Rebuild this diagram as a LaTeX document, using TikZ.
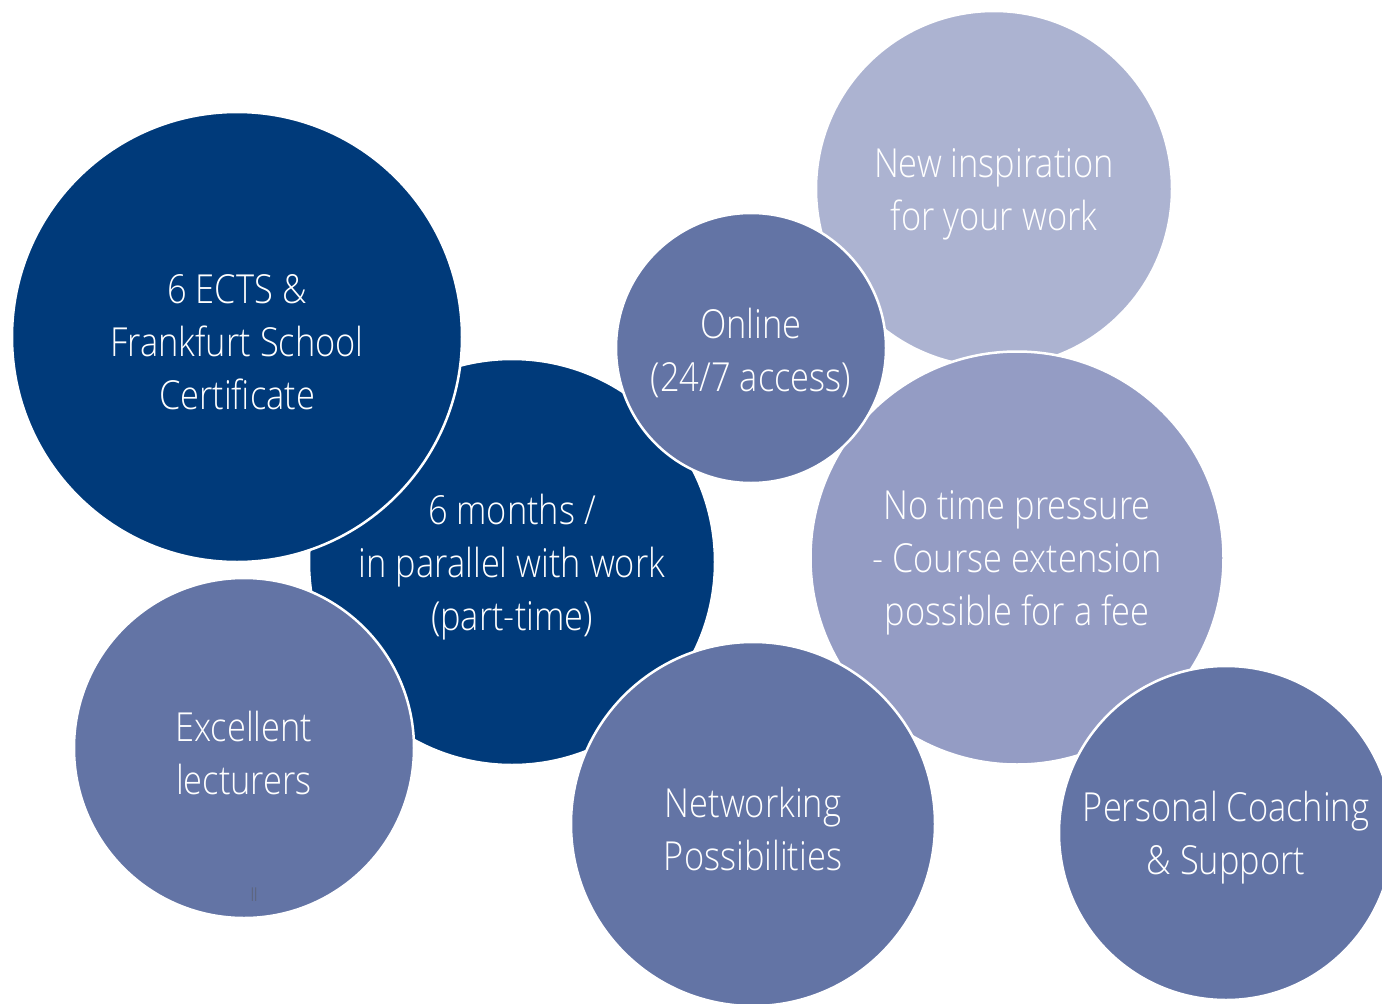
\documentclass[tikz,border=0pt]{standalone}
\usepackage{fontspec}
\IfFontExistsTF{Open Sans Light}
  {\setmainfont{Open Sans Light}[FakeStretch=0.86]}
  {\setmainfont{Open Sans}[FakeStretch=0.82]}
\usepackage{xcolor}
\usepackage{tikz}
\definecolor{fsnavy}{HTML}{003A7A}
\definecolor{fsmid}{HTML}{6374A5}
\definecolor{fslight}{HTML}{949CC4}
\definecolor{fspale}{HTML}{ACB3D1}
\definecolor{fsmark}{HTML}{5A5F6E}
\tikzset{
  bubble/.style={circle, draw=white, line width=2.5pt, inner sep=0pt},
  bubbletext/.style={text=white, align=center, yshift=-5pt,
    font=\fontsize{40}{53}\selectfont}
}

\begin{document}
\begin{tikzpicture}
                \tikzset{x={(1pt, 0pt)}, y={(0pt, -1pt)}}
                \useasboundingbox (0, 0) rectangle (1382, 1004);
                \node[bubble, fill=fsnavy, minimum size=406, label={[bubbletext]center:{6 months /\\in parallel with work\\(part-time)}}] (months) at (512, 562) {};
                \node[bubble, fill=fsnavy, minimum size=450, label={[bubbletext]center:{6 ECTS \&\\Frankfurt School\\Certificate}}] (ects) at (237, 337) {};
                \node[bubble, fill=fsmid, minimum size=340, label={[bubbletext]center:{Excellent\\lecturers}}] (lecturers) at (244, 748) {};
                \node[text=fsmark, font=\fontsize{18}{18}\selectfont] (mark) at (254, 895) {ll};
                \node[bubble, fill=fspale, minimum size=356, label={[bubbletext]center:{New inspiration\\for your work}}] (inspiration) at (994, 189) {};
                \node[bubble, fill=fslight, minimum size=413, label={[bubbletext]center:{No time pressure\\- Course extension\\possible for a fee}}] (pressure) at (1017, 558) {};
                \node[bubble, fill=fsmid, minimum size=270, label={[bubbletext]center:{Online\\(24/7 access)}}] (online) at (751, 348) {};
                \node[bubble, fill=fsmid, minimum size=364, label={[bubbletext]center:{Networking\\Possibilities}}] (networking) at (753, 824) {};
                \node[bubble, fill=fsmid, minimum size=334, label={[bubbletext]center:{Personal Coaching\\\& Support}}] (coaching) at (1226, 833) {};
            \end{tikzpicture}
\end{document}
